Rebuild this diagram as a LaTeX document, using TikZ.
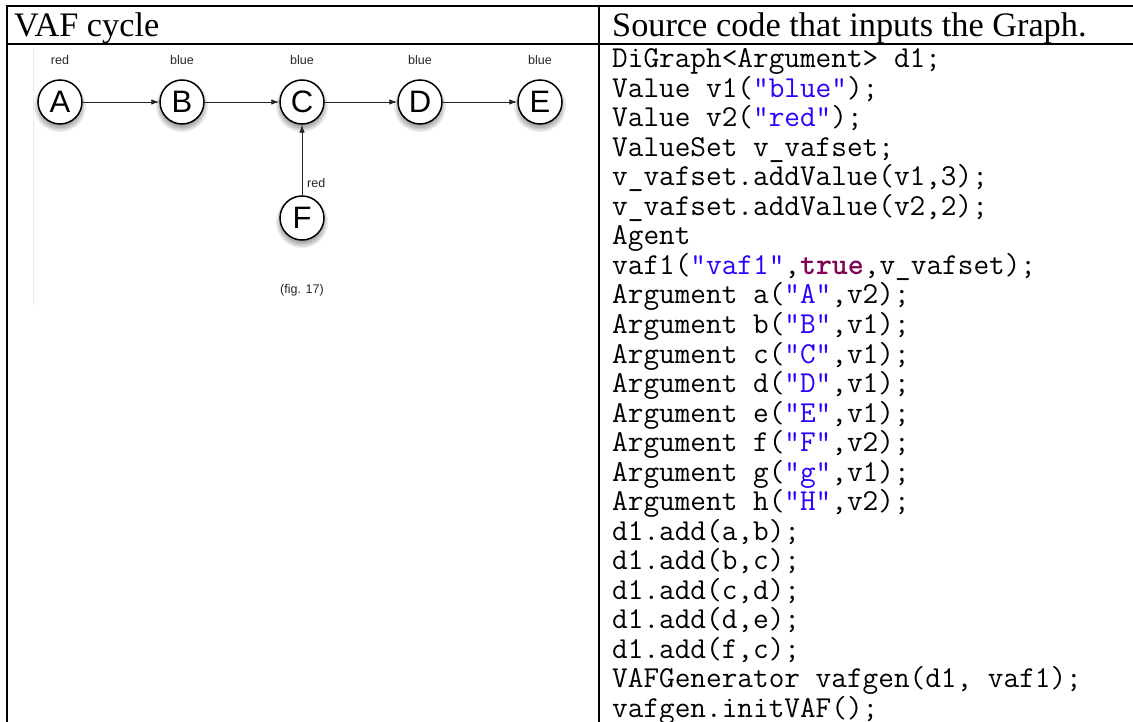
\documentclass[tikz,border=0pt]{standalone}
\usepackage{fontspec}
\setmainfont{Liberation Serif}
\setsansfont{Liberation Sans}
\usetikzlibrary{arrows.meta}
\definecolor{strblue}{RGB}{42,0,255}
\definecolor{kwpurple}{RGB}{127,0,85}
\pgfdeclarelayer{bg}
\pgfsetlayers{bg,main}
% soft drop shadow under an argument node
\newcommand\argshadow[1]{%
  \foreach \k in {1,...,7}{%
    \fill[black,opacity=0.07] ([yshift=-4pt]#1.center) circle ({17pt+\k*1.3pt});}}
\begin{document}
\begin{tikzpicture}[x=1pt,y=-1pt,
  rule/.style={line width=2pt,black},
  headtext/.style={anchor=base west,inner sep=0pt,font=\fontsize{34.3}{40}\selectfont},
  codeline/.style={anchor=base west,inner sep=0pt,font=\fontsize{30.4}{29.5}\ttfamily},
  arg/.style={circle,draw=black,line width=1.5pt,fill=white,minimum size=44pt,inner sep=0pt,font=\fontsize{31}{31}\sffamily},
  vlabel/.style={inner sep=0pt,font=\fontsize{12.5}{13}\sffamily,text=black!85},
  attack/.style={draw=black!85,line width=0.9pt,-{Latex[length=8pt,width=5.5pt]}},
]
\useasboundingbox (0,0) rectangle (1133,722);
\begin{pgfonlayer}{bg}
  \fill[white] (0,0) rectangle (1133,722);
\end{pgfonlayer}

% table rules
\draw[rule] (6,6.5) -- (1133,6.5);
\draw[rule] (6,44) -- (1133,44);
\draw[rule] (6.5,5.5) -- (6.5,722);
\draw[rule] (599,5.5) -- (599,722);
\draw[black!8,line width=0.8pt] (33,47) -- (33,305);

% header texts
\node[headtext] (h1) at (14,37) {VAF cycle};
\node[headtext] (h2) at (612,37) {Source code that inputs the Graph.};

% value labels
\node[vlabel] (la) at (60,60) {red};
\node[vlabel] (lb) at (182,60) {blue};
\node[vlabel] (lc) at (302,60) {blue};
\node[vlabel] (ld) at (420,60) {blue};
\node[vlabel] (le) at (540,60) {blue};

% arguments
\node[arg] (A) at (60,102) {A};
\node[arg] (B) at (182,102) {B};
\node[arg] (C) at (302,102) {C};
\node[arg] (D) at (420,102) {D};
\node[arg] (E) at (540,102) {E};
\node[arg] (F) at (302,218) {F};

\begin{pgfonlayer}{bg}
  \argshadow{A}\argshadow{B}\argshadow{C}\argshadow{D}\argshadow{E}\argshadow{F}
\end{pgfonlayer}

% attacks
\draw[attack] (A) -- (B);
\draw[attack] (B) -- (C);
\draw[attack] (C) -- (D);
\draw[attack] (D) -- (E);
\draw[attack] (F) -- (C);
\node[vlabel,anchor=west] (lf) at (307,183) {red};
\node[vlabel] (cap) at (302,290) {(fig. 17)};

% source listing
\node[codeline] (c1)  at (612,68.0)  {DiGraph<Argument> d1;};
\node[codeline] (c2)  at (612,97.5)  {Value v1(\textcolor{strblue}{"blue"});};
\node[codeline] (c3)  at (612,127.0) {Value v2(\textcolor{strblue}{"red"});};
\node[codeline] (c4)  at (612,156.5) {ValueSet v\_vafset;};
\node[codeline] (c5)  at (612,186.0) {v\_vafset.addValue(v1,3);};
\node[codeline] (c6)  at (612,215.5) {v\_vafset.addValue(v2,2);};
\node[codeline] (c7)  at (612,245.0) {Agent};
\node[codeline] (c8)  at (612,274.5) {vaf1(\textcolor{strblue}{"vaf1"},\textcolor{kwpurple}{\bfseries true},v\_vafset);};
\node[codeline] (c9)  at (612,304.0) {Argument a(\textcolor{strblue}{"A"},v2);};
\node[codeline] (c10) at (612,333.5) {Argument b(\textcolor{strblue}{"B"},v1);};
\node[codeline] (c11) at (612,363.0) {Argument c(\textcolor{strblue}{"C"},v1);};
\node[codeline] (c12) at (612,392.5) {Argument d(\textcolor{strblue}{"D"},v1);};
\node[codeline] (c13) at (612,422.0) {Argument e(\textcolor{strblue}{"E"},v1);};
\node[codeline] (c14) at (612,451.5) {Argument f(\textcolor{strblue}{"F"},v2);};
\node[codeline] (c15) at (612,481.0) {Argument g(\textcolor{strblue}{"g"},v1);};
\node[codeline] (c16) at (612,510.5) {Argument h(\textcolor{strblue}{"H"},v2);};
\node[codeline] (c17) at (612,540.0) {d1.add(a,b);};
\node[codeline] (c18) at (612,569.5) {d1.add(b,c);};
\node[codeline] (c19) at (612,599.0) {d1.add(c,d);};
\node[codeline] (c20) at (612,628.5) {d1.add(d,e);};
\node[codeline] (c21) at (612,658.0) {d1.add(f,c);};
\node[codeline] (c22) at (612,687.5) {VAFGenerator vafgen(d1, vaf1);};
\node[codeline] (c23) at (612,717.0) {vafgen.initVAF();};
\end{tikzpicture}
\end{document}
